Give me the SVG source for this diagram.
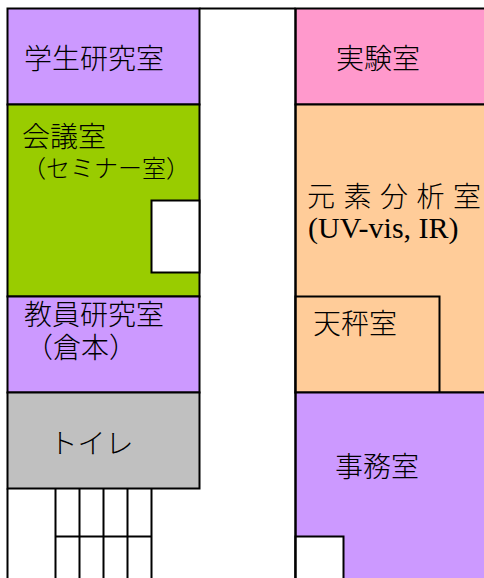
<svg xmlns="http://www.w3.org/2000/svg" width="484" height="578" viewBox="0 0 484 578">
<style>
.r{stroke:#000;stroke-width:2}
.l{fill:none;stroke:#000;stroke-width:2}
.t{font-family:"Liberation Serif","Noto Sans CJK JP",serif;font-size:28px;font-weight:300;fill:#000}
.s{font-size:24px}
.e{font-size:30px;font-weight:400;word-spacing:0}
.p{fill:#c9f}.g{fill:#9c0}.k{fill:#f9c}.o{fill:#fc9}.y{fill:#c0c0c0}.w{fill:#fff}
</style>
<rect width="484" height="578" fill="#fff"/>
<g id="room-student"><rect class="r p" x="7.5" y="8.5" width="192" height="96"/><text class="t" x="24" y="69">学生研究室</text></g>
<g id="room-seminar"><rect class="r g" x="7.5" y="104.5" width="192" height="192"/><rect class="r w" x="151.5" y="200.5" width="48" height="72"/><text class="t" x="22" y="147">会議室</text><text class="t s" x="22" y="177">（セミナー室）</text></g>
<g id="room-faculty"><rect class="r p" x="7.5" y="296.5" width="192" height="96"/><text class="t" x="24" y="325">教員研究室</text><text class="t" x="25" y="358">（倉本）</text></g>
<g id="room-toilet"><rect class="r y" x="7.5" y="392.5" width="192" height="96"/><text class="t" x="49.5" y="454">トイレ</text></g>
<g id="room-lab"><rect class="r k" x="295.5" y="8.5" width="200" height="96"/><text class="t" x="336" y="69">実験室</text></g>
<g id="room-analysis"><rect class="r o" x="295.5" y="104.5" width="200" height="288"/><text class="t" x="307" y="207" word-spacing="1.5">元 素 分 析 室</text><text class="t e" x="308" y="238">(UV-vis, IR)</text></g>
<g id="room-balance"><rect class="r o" x="295.5" y="296.5" width="144" height="96"/><text class="t" x="313" y="334">天秤室</text></g>
<g id="room-office"><rect class="r p" x="295.5" y="392.5" width="200" height="200"/><rect class="r w" x="295.5" y="536.5" width="48" height="50"/><text class="t" x="335" y="477">事務室</text></g>
<g id="connectors">
<path class="l" d="M7.5 488.5V578M55.5 488.5V578M79.5 488.5V578M103.5 488.5V578M127.5 488.5V578M151.5 488.5V578M55.5 536.5H151.5M199.5 8.5H295.5M295.5 8.5V578"/>
</g>
</svg>
